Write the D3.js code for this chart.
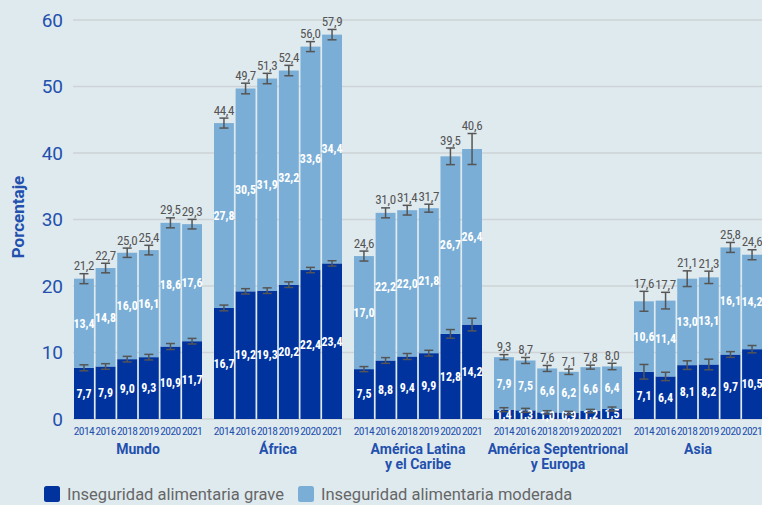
<!DOCTYPE html>
<html><head><meta charset="utf-8">
<script src="https://cdn.jsdelivr.net/npm/d3@7"></script>
<style>
html,body{margin:0;padding:0;background:#dfeaef;}
svg{display:block;font-family:Roboto, "Noto Sans", sans-serif;}
</style></head>
<body><svg id="c" width="762" height="505"></svg>
<script>
const regions = ["Mundo","África","América Latina|y el Caribe","América Septentrional|y Europa","Asia"];
const years = ["2014","2016","2018","2019","2020","2021"];
const grave = [
  [7.7,7.9,9.0,9.3,10.9,11.7],
  [16.7,19.2,19.3,20.2,22.4,23.4],
  [7.5,8.8,9.4,9.9,12.8,14.2],
  [1.4,1.3,1.0,0.9,1.2,1.5],
  [7.1,6.4,8.1,8.2,9.7,10.5]
];
const moderada = [
  [13.4,14.8,16.0,16.1,18.6,17.6],
  [27.8,30.5,31.9,32.2,33.6,34.4],
  [17.0,22.2,22.0,21.8,26.7,26.4],
  [7.9,7.5,6.6,6.2,6.6,6.4],
  [10.6,11.4,13.0,13.1,16.1,14.2]
];
const total = [
  [21.2,22.7,25.0,25.4,29.5,29.3],
  [44.4,49.7,51.3,52.4,56.0,57.9],
  [24.6,31.0,31.4,31.7,39.5,40.6],
  [9.3,8.7,7.6,7.1,7.8,8.0],
  [17.6,17.7,21.1,21.3,25.8,24.6]
];
const errGrave = [
  [0.45,0.42,0.42,0.42,0.45,0.42],
  [0.43,0.4,0.42,0.42,0.4,0.4],
  [0.38,0.43,0.45,0.43,0.65,0.95],
  [0.3,0.3,0.25,0.25,0.25,0.3],
  [1.1,0.63,0.65,0.8,0.43,0.55]
];
const errTotal = [
  [0.75,0.72,0.7,0.72,0.75,0.72],
  [0.75,0.8,0.78,0.78,0.75,0.78],
  [0.75,0.75,0.73,0.6,1.25,2.33],
  [0.38,0.45,0.45,0.4,0.3,0.48],
  [1.5,1.25,1.18,0.93,0.75,0.75]
];
const yTicks = [0,10,20,30,40,50,60];
const legendLabels = ["Inseguridad alimentaria grave","Inseguridad alimentaria moderada"];

const C_DARK = "#00339e", C_LIGHT = "#7aaed6", C_AXIS = "#2350ad", C_ERR = "#555", C_GRID = "#cdd3d6";
const COND = "'Roboto Condensed', Roboto, sans-serif";
const svg = d3.select("#c");
const fmt = v => d3.format(".1f")(v).replace(".", ",");

const y = d3.scaleLinear().domain([0,60]).range([419,20]);
const x0 = d3.scaleBand().domain(regions).range([74,762]).paddingInner(0.0857).paddingOuter(0);
const x1 = d3.scaleBand().domain(years).range([0,128]).paddingInner(0.08).paddingOuter(0);

// grid
svg.append("g").selectAll("line").data(yTicks).join("line")
  .attr("x1",73).attr("x2",762).attr("y1",d=>y(d)).attr("y2",d=>y(d))
  .attr("stroke",C_GRID).attr("stroke-width",1.5);

// y axis labels
const yAxis = svg.append("g").attr("transform","translate(66,0)")
  .call(d3.axisLeft(y).tickValues(yTicks).tickSize(0).tickPadding(3));
yAxis.select(".domain").remove();
yAxis.selectAll("text").attr("fill",C_AXIS).style("font-size","19px").style("font-family","Roboto").attr("font-weight",400);

// y title
svg.append("text").attr("transform","translate(24,217) rotate(-90)")
  .attr("text-anchor","middle").attr("fill",C_AXIS).attr("font-weight",700)
  .style("font-size","17px").text("Porcentaje");

// data rows
const rows = [];
regions.forEach((r,i)=>years.forEach((yr,j)=>rows.push({
  region:r, year:yr, grave:grave[i][j], moderada:moderada[i][j],
  total:total[i][j], eg:errGrave[i][j], et:errTotal[i][j]
})));
const stack = d3.stack().keys(["grave","moderada"])(rows);
const colors = {grave:C_DARK, moderada:C_LIGHT};
const bx = d => x0(d.data.region) + x1(d.data.year);

const gBars = svg.append("g");
stack.forEach(layer=>{
  gBars.append("g").attr("fill",colors[layer.key]).selectAll("rect").data(layer).join("rect")
    .attr("x",bx).attr("width",x1.bandwidth())
    .attr("y",d=>y(d[1])).attr("height",d=>y(d[0])-y(d[1]));
});

// inner labels
stack.forEach(layer=>{
  svg.append("g").selectAll("text").data(layer).join("text")
    .style("font-family",COND)
    .attr("x",d=>bx(d)+x1.bandwidth()/2)
    .attr("y",d=>(y(d[0])+y(d[1]))/2)
    .attr("dy","0.36em").attr("text-anchor","middle").attr("fill","#fff")
    .attr("font-weight",700).style("font-size","12px")
    .text(d=>fmt(d.data[layer.key]));
});

// error bars
function errBars(layer, key){
  const g = svg.append("g").attr("stroke",C_ERR).attr("stroke-width",1.5).attr("fill","none");
  layer.forEach(d=>{
    const cx = bx(d)+x1.bandwidth()/2, e = d.data[key], v = d[1];
    const yt = y(v+e), yb = y(v-e);
    g.append("line").attr("x1",cx).attr("x2",cx).attr("y1",yt).attr("y2",yb);
    g.append("line").attr("x1",cx-4.5).attr("x2",cx+4.5).attr("y1",yt).attr("y2",yt);
    g.append("line").attr("x1",cx-4.5).attr("x2",cx+4.5).attr("y1",yb).attr("y2",yb);
  });
}
errBars(stack[0],"eg");
errBars(stack[1],"et");

// total labels
svg.append("g").selectAll("text").data(stack[1]).join("text")
  .style("font-family",COND)
  .attr("x",d=>bx(d)+x1.bandwidth()/2)
  .attr("y",d=>y(d[1]+d.data.et)-3.5)
  .attr("text-anchor","middle").attr("fill","#555")
  .style("font-size","13px").style("letter-spacing","-0.3px")
  .text(d=>fmt(d.data.total));

// year labels
regions.forEach(r=>{
  svg.append("g").selectAll("text").data(years).join("text")
    .style("font-family",COND)
    .attr("x",yr=>x0(r)+x1(yr)+x1.bandwidth()/2).attr("y",435)
    .attr("text-anchor","middle").attr("fill",C_AXIS)
    .style("font-size","11.5px").style("letter-spacing","-0.6px").text(yr=>yr);
});

// group labels
regions.forEach(r=>{
  r.split("|").forEach((line,k)=>{
    svg.append("text").attr("x",x0(r)+64).attr("y",454+k*15)
      .attr("text-anchor","middle").attr("fill",C_AXIS).attr("font-weight",700)
      .style("font-size","14px").text(line);
  });
});

// legend
const leg = svg.append("g");
const legX = [44,298];
legendLabels.forEach((l,i)=>{
  leg.append("rect").attr("x",legX[i]).attr("y",486).attr("width",16).attr("height",16)
    .attr("rx",2.5).attr("fill",i?C_LIGHT:C_DARK);
  leg.append("text").attr("x",legX[i]+23).attr("y",500).attr("fill","#666")
    .style("font-size","16.5px").text(l);
});
</script></body></html>
